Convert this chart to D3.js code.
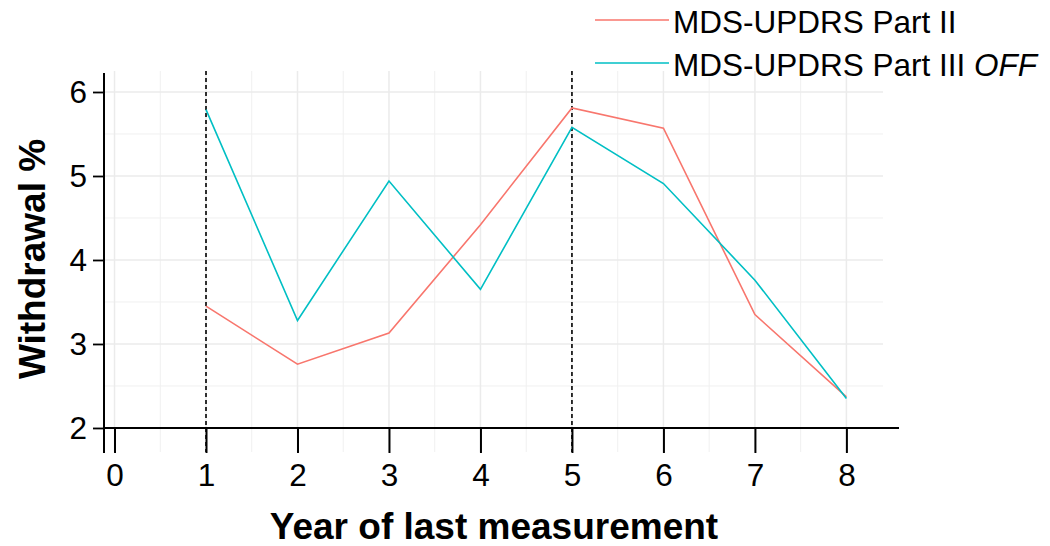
<!DOCTYPE html>
<html>
<head>
<meta charset="utf-8">
<script src="https://cdn.jsdelivr.net/npm/d3@7"></script>
<style>
  body { margin: 0; background: #fff; }
  text { font-family: Arial, "Liberation Sans", sans-serif; }
</style>
</head>
<body>
<script>
// data
const years = [1, 2, 3, 4, 5, 6, 7, 8];
const partII = [3.45, 2.76, 3.13, 4.42, 5.81, 5.57, 3.35, 2.37];
const partIIIoff = [5.79, 3.28, 4.94, 3.65, 5.58, 4.91, 3.76, 2.35];
const xTicks = [0, 1, 2, 3, 4, 5, 6, 7, 8];
const yTicks = [2, 3, 4, 5, 6];
const markedYears = [1, 5];

const series = [
  { name: 'MDS-UPDRS Part II', italic: '', values: partII, color: '#F8766D' },
  { name: 'MDS-UPDRS Part III ', italic: 'OFF', values: partIIIoff, color: '#00BFC4' },
];

const width = 1050;
const height = 546;
const panel = { left: 104, right: 883, top: 71, bottom: 452 };

const svg = d3.select('body').append('svg')
  .attr('width', width)
  .attr('height', height);

const x = d3.scaleLinear().domain([-0.115, 8.4]).range([panel.left, panel.right]);
const y = d3.scaleLinear().domain([1.714, 6.25]).range([panel.bottom, panel.top]);

// grid (major + minor)
const grid = svg.append('g');
const xMinor = d3.range(0.5, 8.4, 1);
const yMinor = d3.range(2.5, 6.25, 1);
grid.selectAll('.vminor').data(xMinor).join('line')
  .attr('x1', d => x(d)).attr('x2', d => x(d))
  .attr('y1', panel.top).attr('y2', panel.bottom)
  .attr('stroke', '#f0f0f0').attr('stroke-width', 1);
grid.selectAll('.hminor').data(yMinor).join('line')
  .attr('x1', panel.left).attr('x2', panel.right)
  .attr('y1', d => y(d)).attr('y2', d => y(d))
  .attr('stroke', '#f0f0f0').attr('stroke-width', 1);
grid.selectAll('.vmajor').data(xTicks).join('line')
  .attr('x1', d => x(d)).attr('x2', d => x(d))
  .attr('y1', panel.top).attr('y2', panel.bottom)
  .attr('stroke', '#ebebeb').attr('stroke-width', 1.5);
grid.selectAll('.hmajor').data(yTicks).join('line')
  .attr('x1', panel.left).attr('x2', panel.right)
  .attr('y1', d => y(d)).attr('y2', d => y(d))
  .attr('stroke', '#ebebeb').attr('stroke-width', 1.5);

// y axis
const yAxis = svg.append('g')
  .attr('transform', `translate(${panel.left},0)`)
  .call(d3.axisLeft(y).tickValues(yTicks).tickFormat(d3.format('d')).tickSize(11).tickPadding(6));
yAxis.select('.domain').remove();
yAxis.selectAll('.tick line').attr('stroke', '#000').attr('stroke-width', 1.8);
yAxis.selectAll('.tick text')
  .attr('fill', '#000')
  .style('font-size', '31.5px')
  .style('font-family', 'Arial, "Liberation Sans", sans-serif');
svg.append('line')
  .attr('x1', panel.left).attr('x2', panel.left)
  .attr('y1', panel.top + 2).attr('y2', panel.bottom + 1)
  .attr('stroke', '#000').attr('stroke-width', 2);

// x axis at y = 2
const xAxis = svg.append('g')
  .attr('transform', `translate(0,${y(2)})`)
  .call(d3.axisBottom(x).tickValues(xTicks).tickFormat(d3.format('d')).tickSize(25).tickPadding(11));
xAxis.select('.domain').remove();
xAxis.selectAll('.tick line').attr('stroke', '#000').attr('stroke-width', 2);
xAxis.selectAll('.tick text')
  .attr('fill', '#000')
  .style('font-size', '31.5px')
  .style('font-family', 'Arial, "Liberation Sans", sans-serif');
svg.append('line')
  .attr('x1', panel.left).attr('x2', 899)
  .attr('y1', y(2)).attr('y2', y(2))
  .attr('stroke', '#000').attr('stroke-width', 2);

// dashed reference lines
svg.selectAll('.vref').data(markedYears).join('line')
  .attr('x1', d => x(d)).attr('x2', d => x(d))
  .attr('y1', panel.top).attr('y2', panel.bottom)
  .attr('stroke', '#000').attr('stroke-width', 1.6)
  .attr('stroke-dasharray', '4,3');

// series lines
const line = d3.line()
  .x((d, i) => x(years[i]))
  .y(d => y(d));
svg.selectAll('.series').data(series).join('path')
  .attr('d', d => line(d.values))
  .attr('fill', 'none')
  .attr('stroke', d => d.color)
  .attr('stroke-width', 1.6);

// axis titles
svg.append('text')
  .attr('x', 494).attr('y', 539)
  .attr('text-anchor', 'middle')
  .style('font-size', '37px').style('font-weight', 'bold')
  .text('Year of last measurement');
svg.append('text')
  .attr('transform', 'translate(45,259) rotate(-90)')
  .attr('text-anchor', 'middle')
  .style('font-size', '37px').style('font-weight', 'bold')
  .text('Withdrawal %');

// legend
const legend = svg.append('g').selectAll('g').data(series).join('g')
  .attr('transform', (d, i) => `translate(595,${20 + i * 43})`);
legend.append('line')
  .attr('x1', 0).attr('x2', 74)
  .attr('stroke', d => d.color).attr('stroke-width', 1.6);
const lt = legend.append('text')
  .attr('x', 78).attr('y', 13)
  .style('font-size', '31.5px');
lt.append('tspan').text(d => d.name);
lt.append('tspan').style('font-style', 'italic').text(d => d.italic);
</script>
</body>
</html>
